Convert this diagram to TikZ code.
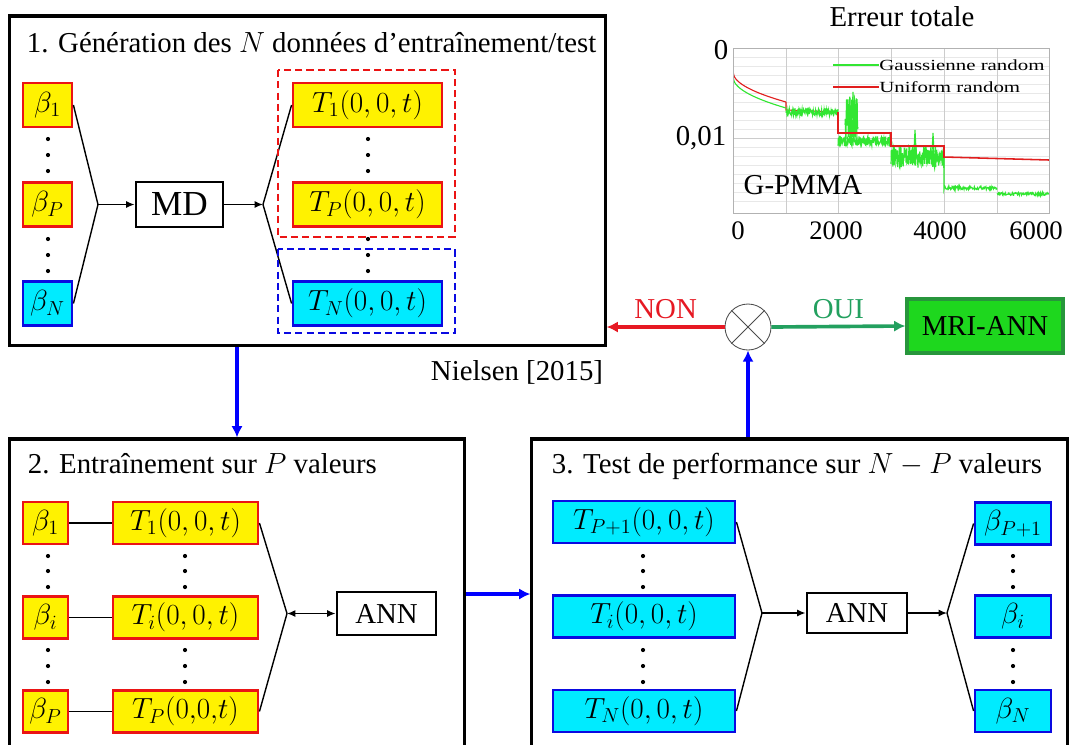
\documentclass[tikz,border=0pt]{standalone}
\usepackage{fontspec}
\setmainfont{Liberation Serif}
\newfontfamily\boxfont{Liberation Serif}
\newfontfamily\legfont[FakeStretch=1.35]{Liberation Serif}
\usetikzlibrary{arrows.meta}
\definecolor{boxred}{RGB}{235,20,20}
\definecolor{boxblue}{RGB}{10,10,225}
\definecolor{boxcyan}{RGB}{0,235,255}
\definecolor{nonred}{RGB}{230,25,35}
\definecolor{ouigreen}{RGB}{35,160,95}
\definecolor{mrigreen}{RGB}{30,215,30}
\definecolor{mriedge}{RGB}{40,150,60}
\definecolor{curvegreen}{RGB}{50,230,50}
\definecolor{curvered}{RGB}{225,30,30}
\begin{document}
\begin{tikzpicture}[x=0.025cm, y=-0.025cm,
    font=\boxfont\fontsize{20.5}{24}\selectfont,
    frame/.style={draw, line width=2.2pt, inner sep=0pt},
    ybox/.style={draw=boxred, fill=yellow, line width=2pt, inner sep=0pt, minimum height=1.1cm},
    cbox/.style={draw=boxblue, fill=boxcyan, line width=2pt, inner sep=0pt, minimum height=1.05cm},
    wbox/.style={draw, fill=white, line width=2pt, inner sep=0pt},
    link/.style={line width=1pt},
    tip arrow/.style={-{Latex[length=6pt,width=5pt]}, line width=1pt},
    fat/.style={line width=2.6pt, -{Latex[length=8pt,width=8pt]}}]
    \useasboundingbox (0,0) rectangle (1076,744);
    \clip (0,0) rectangle (1076,744);

    % 1. generation
    \node[frame, minimum width=14.875cm, minimum height=8.225cm] (f1) at (307.5,180.5) {};
    \node[anchor=base west] (h1) at (22,52) {1. Génération des $N$ données d’entraînement/test};
    \node[ybox, minimum width=1.225cm] (b1) at (47.5,105) {$\beta_1$};
    \node[ybox, minimum width=1.225cm] (bP) at (47.5,204.5) {$\beta_P$};
    \node[cbox, minimum width=1.225cm, minimum height=1.1cm] (bN) at (47.5,303.5) {$\beta_N$};
    \node[wbox, minimum width=2.175cm, minimum height=1.125cm, font=\boxfont\fontsize{25}{30}\selectfont] (md) at (179.5,204.5) {MD};
    \node[ybox, minimum width=3.725cm] (t1) at (367.5,105) {$T_1(0,0,t)$};
    \node[ybox, minimum width=3.725cm] (tP) at (367.5,204.5) {$T_P(0,0,t)$};
    \node[cbox, minimum width=3.725cm, minimum height=1.1cm] (tN) at (367.5,303.5) {$T_N(0,0,t)$};
    \coordinate (j1) at (98,204.5);
    \coordinate (j2) at (263,204.5);
    \foreach \y in {139,155,171,239,255,271} {
        \fill (48,\y) circle (2.1);
        \fill (368,\y) circle (2.1);
    }
    \draw[link] (b1.east) -- (j1) -- (bN.east);
    \draw[tip arrow] (j1) -- (md);
    \draw[tip arrow] (md) -- (j2);
    \draw[link] (t1.west) -- (j2) -- (tN.west);
    \draw[boxred, line width=1.6pt, dash pattern=on 5pt off 3pt] (278,70) rectangle (455,237);
    \draw[boxblue, line width=1.6pt, dash pattern=on 5pt off 3pt] (278,249) rectangle (455,333);

    % 2. entrainement
    \node[frame, minimum width=11.35cm, minimum height=8.275cm] (f2) at (237,604.5) {};
    \node[anchor=base west] (h2) at (23,473) {2. Entraînement sur $P$ valeurs};
    \node[ybox, minimum width=1.125cm, minimum height=1.05cm] (u1) at (45.5,523) {$\beta_1$};
    \node[ybox, minimum width=1.125cm, minimum height=1.05cm] (ui) at (45.5,617.5) {$\beta_i$};
    \node[ybox, minimum width=1.125cm, minimum height=1.05cm] (uP) at (45.5,711.5) {$\beta_P$};
    \node[ybox, minimum width=3.625cm, minimum height=1.05cm] (v1) at (185.5,523) {$T_1(0,0,t)$};
    \node[ybox, minimum width=3.625cm, minimum height=1.05cm] (vi) at (185.5,617.5) {$T_i(0,0,t)$};
    \node[ybox, minimum width=3.625cm, minimum height=1.05cm] (vP) at (185.5,711.5) {$T_P(0{,}0{,}t)$};
    \node[wbox, minimum width=2.475cm, minimum height=1.075cm] (ann2) at (386.5,613.5) {ANN};
    \coordinate (j3) at (287,613.5);
    \foreach \y in {556,571,587,650,666,682} {
        \fill (48,\y) circle (2.1);
        \fill (185,\y) circle (2.1);
    }
    \draw[link] (u1) -- (v1);
    \draw[link] (ui) -- (vi);
    \draw[link] (uP) -- (vP);
    \draw[link] (v1.east) -- (j3) -- (vP.east);
    \draw[{Latex[length=6pt,width=5pt]}-{Latex[length=6pt,width=5pt]}, line width=1pt] (j3) -- (ann2);

    % 3. test
    \node[frame, minimum width=13.375cm, minimum height=8.275cm] (f3) at (799.5,604.5) {};
    \node[anchor=base west] (h3) at (547,473) {3. Test de performance sur $N-P$ valeurs};
    \node[cbox, minimum width=4.55cm] (w1) at (644,522) {$T_{P+1}(0,0,t)$};
    \node[cbox, minimum width=4.55cm] (wi) at (644,616.5) {$T_i(0,0,t)$};
    \node[cbox, minimum width=4.55cm] (wN) at (644,711) {$T_N(0,0,t)$};
    \node[wbox, minimum width=2.5cm, minimum height=1cm] (ann3) at (857,613) {ANN};
    \node[cbox, minimum width=1.9cm] (z1) at (1013,523.5) {$\beta_{P+1}$};
    \node[cbox, minimum width=1.9cm] (zi) at (1013,616.5) {$\beta_i$};
    \node[cbox, minimum width=1.9cm] (zN) at (1013,711) {$\beta_N$};
    \coordinate (j4) at (762,613);
    \coordinate (j5) at (947,613);
    \foreach \y in {556,571,587,650,666,682} {
        \fill (643,\y) circle (2.1);
        \fill (1013,\y) circle (2.1);
    }
    \draw[link] (w1.east) -- (j4) -- (wN.east);
    \draw[tip arrow] (j4) -- (ann3);
    \draw[tip arrow] (ann3) -- (j5);
    \draw[link] (z1.west) -- (j5) -- (zN.west);

    % decision
    \node[draw=black!70, circle, minimum size=1.15cm, inner sep=0pt, line width=0.6pt] (cmp) at (748,327) {};
    \draw[black!70, line width=0.6pt] (cmp.north west) -- (cmp.south east) (cmp.north east) -- (cmp.south west);
    \node[draw=mriedge, fill=mrigreen, line width=2.2pt, inner sep=0pt, minimum width=3.9cm, minimum height=1.35cm] (mri) at (985,326) {MRI-ANN};
    \node (ref) at (517,372) {Nielsen [2015]};
    \coordinate (lvl) at (498,594);
    \draw[fat, nonred] (cmp.west) -- (f1.east |- cmp) node[midway, above=1pt] (non) {NON};
    \draw[fat, ouigreen] (cmp.east) -- (mri.west) node[midway, above=1pt] (oui) {OUI};
    \draw[fat, blue] (f1.south -| f2.north) -- (f2.north);
    \draw[fat, blue] (f2.east |- lvl) -- (f3.west |- lvl);
    \draw[fat, blue] (cmp |- f3.north) -- (cmp.south);

    % erreur totale
    \begin{scope}
        \clip (733,48) rectangle (1049,213);
        \foreach \y in {57,66,75,84,93,102,111,120,129,147,156,165,174,183,192,201}
            \draw[gray!18, line width=0.4pt] (733,\y) -- (1049,\y);
        \draw[gray!40, line width=0.5pt] (733,138) -- (1049,138);
        \foreach \x in {786,838,891,944,997}
            \draw[gray!40, line width=0.5pt] (\x,48) -- (\x,213);
        \pgfmathsetseed{7}
        \draw[curvered, line width=0.8pt] (786,102) -- (786,110) -- (838,112);
        \draw[curvegreen, line width=0.8pt] (733,64) -- plot[domain=733:786, samples=40] (\x,{77+31*sqrt((\x-733)/53)});
        \draw[curvegreen, line width=0.8pt] plot[domain=786:838, samples=140] (\x,{112+3.5*rand});
        \draw[curvegreen, line width=0.8pt] plot[domain=838:891, samples=150] (\x,{141+5*rand});
        \draw[curvegreen, line width=0.8pt] plot[domain=845:858, samples=45] (\x,{120+26*rand});
        \draw[curvegreen, line width=0.8pt] (849,140) -- (850,98) -- (851,140) -- (853,92) -- (854,140) -- (856,100) -- (857,140);
        \draw[curvegreen, line width=0.8pt] plot[domain=891:944, samples=170] (\x,{157+11*rand});
        \draw[curvegreen, line width=0.8pt] (914,150) -- (915,130) -- (916,150) (932,152) -- (933,133) -- (934,152);
        \draw[curvegreen, line width=0.8pt] (944,150) -- plot[domain=944:997, samples=120] (\x,{188+1.8*rand});
        \draw[curvegreen, line width=0.8pt] plot[domain=997:1049, samples=120] (\x,{194+1.5*rand});
        \draw[curvered, line width=0.8pt] (733,66) -- plot[domain=733:786, samples=40] (\x,{72+30*sqrt((\x-733)/53)});
        \draw[curvered, line width=1.1pt] (838,112) -- (838,133) -- (891,133) -- (891,146) -- (944,146) -- (944,157) -- (1049,160);
    \end{scope}
    \draw[gray!60, line width=0.6pt] (733,48) rectangle (1049,213);
    \node (et) at (902,17) {Erreur totale};
    \node (y0) at (721,50) {0};
    \node (y1) at (701,138) {0,01};
    \node[font=\boxfont\fontsize{19}{22}\selectfont] (x0) at (738,231) {0};
    \node[font=\boxfont\fontsize{19}{22}\selectfont] (x2) at (836,231) {2000};
    \node[font=\boxfont\fontsize{19}{22}\selectfont] (x4) at (940,231) {4000};
    \node[font=\boxfont\fontsize{19}{22}\selectfont] (x6) at (1036,231) {6000};
    \draw[curvegreen, line width=0.8pt] (833,65) -- (879,65);
    \draw[curvered, line width=0.8pt] (833,87) -- (879,87);
    \node[anchor=west, inner sep=0pt, font={\legfont\fontsize{11}{13}\selectfont}] (lg) at (879,65) {Gaussienne random};
    \node[anchor=west, inner sep=0pt, font={\legfont\fontsize{11}{13}\selectfont}] (lu) at (879,87) {Uniform random};
    \node (gp) at (803,185) {G-PMMA};
\end{tikzpicture}
\end{document}
